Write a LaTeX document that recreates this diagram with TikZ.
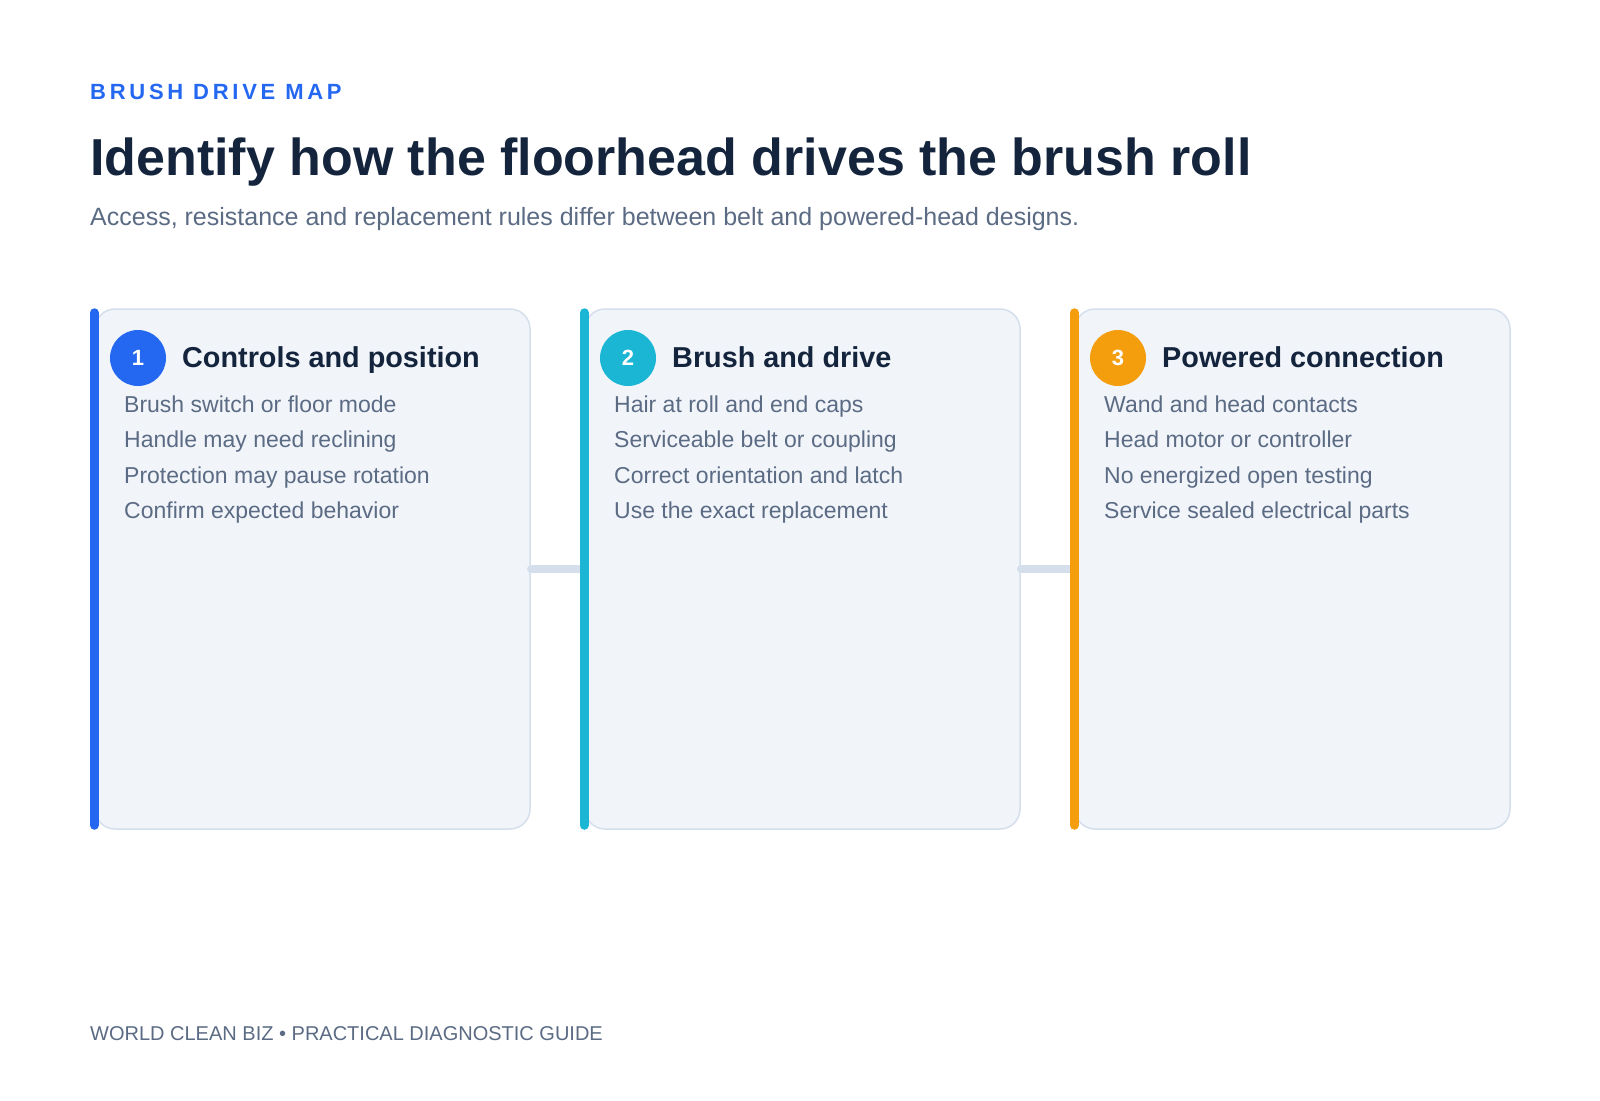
\documentclass[tikz,border=0pt]{standalone}
\usepackage{fontspec}
\setmainfont{Liberation Sans}
\newfontfamily\kickerfont[LetterSpace=17]{Liberation Sans}
\usetikzlibrary{positioning}
\definecolor{ink}{HTML}{14243D}
\definecolor{slate}{HTML}{5B6B84}
\definecolor{blueA}{HTML}{2468F2}
\definecolor{tealA}{HTML}{1AB6D4}
\definecolor{amberA}{HTML}{F49E0E}
\definecolor{cardfill}{HTML}{F1F5FA}
\definecolor{cardline}{HTML}{D5DFEC}

\begin{document}
\begin{tikzpicture}[x=1pt,y=-1pt,
   card/.style={draw=cardline,line width=1.5pt,fill=cardfill,rounded corners=20pt,
      minimum width=435pt,minimum height=520pt,inner sep=0pt},
   sidebar/.style={draw=#1,line width=9pt,line cap=round,shorten <=4.5pt,shorten >=4.5pt},
   link/.style={draw=cardline,line width=7.5pt,line cap=round},
   badge/.style={circle,fill=#1,minimum size=56pt,inner sep=0pt,text=white,
      font=\fontsize{22}{26}\selectfont\bfseries},
   head/.style={anchor=base west,inner sep=0pt,text=ink,font=\fontsize{28.8}{32}\selectfont\bfseries},
   item/.style={anchor=base west,inner sep=0pt,text=slate,font=\fontsize{23}{27}\selectfont}]
   \useasboundingbox[fill=white] (0,0) rectangle (1600,1100);

   \node[anchor=base west,inner sep=0pt,text=blueA,font=\kickerfont\fontsize{22}{26}\selectfont\bfseries] (kicker) at (90,99) {BRUSH DRIVE MAP};
   \node[anchor=base west,inner sep=0pt,text=ink,font=\fontsize{52}{60}\selectfont\bfseries] (title) at (90,175) {Identify how the floorhead drives the brush roll};
   \node[anchor=base west,inner sep=0pt,text=slate,font=\fontsize{25}{29}\selectfont] (sub) at (90,225) {Access, resistance and replacement rules differ between belt and powered-head designs.};

   \node[card] (c1) at (312.5,569) {};
   \node[card] (c2) at (802.5,569) {};
   \node[card] (c3) at (1292.5,569) {};

   \draw[link] (c1.east) -- (c2.west);
   \draw[link] (c2.east) -- (c3.west);

   \draw[sidebar=blueA] (c1.north west) -- (c1.south west);
   \draw[sidebar=tealA] (c2.north west) -- (c2.south west);
   \draw[sidebar=amberA] (c3.north west) -- (c3.south west);

   \node[badge=blueA] (n1) at (138,358) {1};
   \node[head] (h1) at (182,367) {Controls and position};
   \node[item] (i11) at (124,412) {Brush switch or floor mode};
   \node[item] (i12) at (124,447.5) {Handle may need reclining};
   \node[item] (i13) at (124,483) {Protection may pause rotation};
   \node[item] (i14) at (124,518.5) {Confirm expected behavior};

   \node[badge=tealA] (n2) at (628,358) {2};
   \node[head] (h2) at (672,367) {Brush and drive};
   \node[item] (i21) at (614,412) {Hair at roll and end caps};
   \node[item] (i22) at (614,447.5) {Serviceable belt or coupling};
   \node[item] (i23) at (614,483) {Correct orientation and latch};
   \node[item] (i24) at (614,518.5) {Use the exact replacement};

   \node[badge=amberA] (n3) at (1118,358) {3};
   \node[head] (h3) at (1162,367) {Powered connection};
   \node[item] (i31) at (1104,412) {Wand and head contacts};
   \node[item] (i32) at (1104,447.5) {Head motor or controller};
   \node[item] (i33) at (1104,483) {No energized open testing};
   \node[item] (i34) at (1104,518.5) {Service sealed electrical parts};

   \node[anchor=base west,inner sep=0pt,text=slate,font=\fontsize{20}{24}\selectfont] (foot) at (90,1040) {WORLD CLEAN BIZ \textbullet{} PRACTICAL DIAGNOSTIC GUIDE};
\end{tikzpicture}
\end{document}
